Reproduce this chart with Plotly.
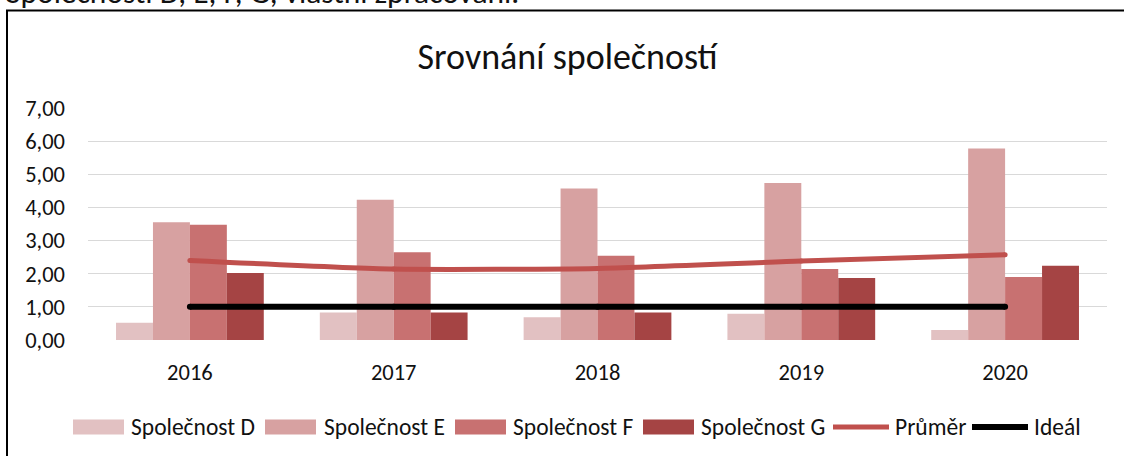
import plotly.graph_objects as go

# ---- data ----
years = ["2016", "2017", "2018", "2019", "2020"]
spol_d = [0.52, 0.83, 0.69, 0.79, 0.30]
spol_e = [3.55, 4.23, 4.57, 4.74, 5.78]
spol_f = [3.48, 2.65, 2.54, 2.14, 1.90]
spol_g = [2.02, 0.83, 0.83, 1.87, 2.24]
prumer = [2.40, 2.14, 2.16, 2.38, 2.57]
ideal = [1.00, 1.00, 1.00, 1.00, 1.00]

bar_names = ["Společnost D", "Společnost E", "Společnost F", "Společnost G"]
line_names = ["Průměr", "Ideál"]
title_text = "Srovnání společností"
source_text = "Společnosti D, E, F, G, vlastní zpracování."

# ---- styles ----
bar_colors = ["#E2C1C2", "#D7A1A1", "#C87171", "#A54444"]
line_colors = ["#C0504D", "#000000"]
FONT = "Carlito, Open Sans, sans-serif"
TXT = "#111111"

W, H = 1124, 456
L, R, T, B = 88, 17, 108, 116
PW, PH = W - L - R, H - T - B


def px_x(px):
    return (px - L) / PW


def px_y(py):
    return (H - B - py) / PH


fig = go.Figure()
for name, vals, col in zip(bar_names, [spol_d, spol_e, spol_f, spol_g], bar_colors):
    fig.add_trace(go.Bar(x=years, y=vals, name=name, marker=dict(color=col, line=dict(width=0)),
                         showlegend=False))

fig.add_trace(go.Scatter(x=years, y=prumer, name=line_names[0], mode="lines+markers",
                         line=dict(color=line_colors[0], width=5, shape="spline", smoothing=0.6),
                         marker=dict(size=5, color=line_colors[0]), showlegend=False))
fig.add_trace(go.Scatter(x=years, y=ideal, name=line_names[1], mode="lines+markers",
                         line=dict(color=line_colors[1], width=6),
                         marker=dict(size=6, color=line_colors[1]), showlegend=False))

# ---- custom legend (wide swatches) ----
shapes = []
annotations = []
leg_y = 427
LEG_FS = 23.5
bar_sw = [(73, 124, 129), (265, 316, 322), (455, 506, 511), (643, 694, 699)]
for (x0, x1, tx), name, col in zip(bar_sw, bar_names, bar_colors):
    shapes.append(dict(type="rect", xref="paper", yref="paper", x0=px_x(x0), x1=px_x(x1),
                       y0=px_y(leg_y + 7.5), y1=px_y(leg_y - 7.5), fillcolor=col, line=dict(width=0)))
    annotations.append(dict(text=name, xref="paper", yref="paper", x=px_x(tx), y=px_y(leg_y),
                            xanchor="left", yanchor="middle", showarrow=False,
                            font=dict(family=FONT, size=LEG_FS, color=TXT)))
line_sw = [(833, 889, 893, 5), (972, 1028, 1032, 6)]
for (x0, x1, tx, lw), name, col in zip(line_sw, line_names, line_colors):
    shapes.append(dict(type="line", xref="paper", yref="paper", x0=px_x(x0), x1=px_x(x1),
                       y0=px_y(leg_y), y1=px_y(leg_y), line=dict(color=col, width=lw)))
    annotations.append(dict(text=name, xref="paper", yref="paper", x=px_x(tx), y=px_y(leg_y),
                            xanchor="left", yanchor="middle", showarrow=False,
                            font=dict(family=FONT, size=LEG_FS, color=TXT)))

# chart border (cropped: top + left visible)
shapes.append(dict(type="rect", xref="paper", yref="paper", x0=px_x(7), x1=px_x(W + 20),
                   y0=px_y(H + 20), y1=px_y(10.5), line=dict(color="#000000", width=2),
                   fillcolor="rgba(0,0,0,0)", layer="above"))

# caption above the chart, cropped at the top edge as in the source
annotations.append(dict(text=source_text, xref="paper", yref="paper", x=px_x(4), y=px_y(12.5),
                        xanchor="left", yanchor="bottom", showarrow=False,
                        font=dict(family=FONT, size=31.5, color=TXT)))

fig.update_layout(
    width=W, height=H,
    margin=dict(l=L, r=R, t=T, b=B, pad=0),
    paper_bgcolor="white", plot_bgcolor="white",
    barmode="group", bargap=0.275, bargroupgap=0,
    separators=", ",
    font=dict(family=FONT, size=22, color=TXT),
    title=dict(text=title_text, x=0.505, xref="container", y=1 - 56 / H, yref="container",
               xanchor="center", yanchor="middle",
               font=dict(family=FONT, size=36, color=TXT)),
    shapes=shapes,
    annotations=annotations,
    showlegend=False,
)
fig.update_xaxes(type="category", showgrid=False, showline=False, zeroline=False, ticks="",
                 ticklabelstandoff=16, tickfont=dict(size=22.5))
fig.update_yaxes(range=[0, 7], dtick=1, tickformat=".2f", showgrid=True, gridcolor="#D9D9D9",
                 gridwidth=1.3, zeroline=False, showline=False, ticks="", ticklabelstandoff=22,
                 tickfont=dict(size=22.5))

fig.write_html("out.html", config={"displayModeBar": False},
               post_script="document.body.style.margin='0';document.body.style.overflow='hidden';")
